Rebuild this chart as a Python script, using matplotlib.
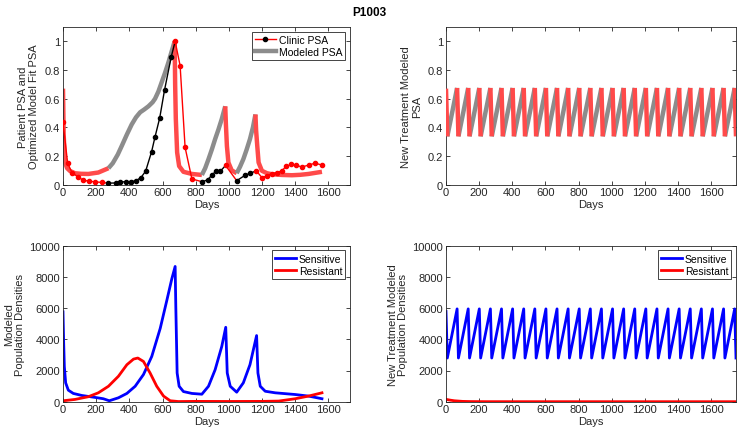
import numpy as np
import matplotlib.pyplot as plt
from matplotlib.lines import Line2D

plt.rcParams['font.family'] = ['Liberation Sans', 'DejaVu Sans']

# ---- patient PSA (clinic), 1 = on treatment (red), 0 = off (black)
clinic_days = [0, 28, 56, 89, 121, 155, 191, 233,
               274, 318, 346, 378, 410, 438, 470, 498, 534, 554, 583, 612, 652,
               676, 706, 736, 777,
               840, 873, 897, 923, 949,
               980,
               1047, 1098, 1129,
               1165, 1199, 1229, 1259, 1289, 1319, 1344, 1374, 1404, 1440, 1480, 1520, 1561]
clinic_psa = [0.435, 0.15, 0.08, 0.057, 0.031, 0.025, 0.02, 0.016,
              0.011, 0.012, 0.02, 0.02, 0.022, 0.026, 0.05, 0.094, 0.23, 0.33, 0.466, 0.66, 0.89,
              1.0, 0.83, 0.26, 0.04,
              0.02, 0.035, 0.067, 0.095, 0.095,
              0.134,
              0.028, 0.066, 0.08,
              0.097, 0.05, 0.062, 0.077, 0.084, 0.097, 0.127, 0.141, 0.137, 0.123, 0.137, 0.15, 0.137]
clinic_on = [1] * 8 + [0] * 13 + [1] * 4 + [0] * 5 + [1] + [0] * 3 + [1] * 13

# ---- modeled PSA fit
model_days = [0, 4, 12, 25, 42, 72, 110, 153, 213, 274,
              300, 330, 354, 385, 414, 440, 465, 490, 515, 540, 555, 575, 595, 615, 636, 655, 673,
              676, 680, 688, 700, 726, 777, 837,
              857, 877, 897, 917, 937, 957, 978,
              982, 988, 997, 1017, 1047,
              1067, 1087, 1107, 1127, 1145, 1160,
              1164, 1171, 1179, 1199, 1230, 1259, 1320, 1380, 1430, 1480, 1561]
model_psa = [0.67, 0.35, 0.155, 0.115, 0.096, 0.08, 0.076, 0.075, 0.085, 0.115,
             0.15, 0.21, 0.27, 0.35, 0.42, 0.47, 0.505, 0.525, 0.547, 0.575, 0.6, 0.65, 0.715, 0.78,
             0.855, 0.93, 1.0,
             0.7, 0.46, 0.225, 0.13, 0.09, 0.075, 0.068,
             0.115, 0.178, 0.245, 0.318, 0.385, 0.458, 0.547,
             0.42, 0.27, 0.155, 0.10, 0.08,
             0.125, 0.178, 0.245, 0.318, 0.4, 0.49,
             0.38, 0.27, 0.155, 0.097, 0.08, 0.073, 0.068, 0.066, 0.069, 0.075, 0.09]
model_on = [1] * 9 + [0] * 17 + [1] * 7 + [0] * 7 + [1] * 5 + [0] * 6 + [1] * 11

# ---- modeled population densities (fit)
sens_days = [0, 4, 8, 16, 32, 62, 113, 193, 243, 279, 334, 385, 435, 485, 535, 586, 626, 656, 676,
             680, 688, 700, 726, 777, 837, 877, 917, 957, 981, 990, 1008, 1047, 1087, 1127, 1167,
             1175, 1189, 1219, 1279, 1400, 1480, 1561]
sens_vals = [5760, 3800, 2260, 1210, 740, 530, 400, 275, 190, 60, 250, 530, 990, 1740, 2900, 4700, 6500,
             7880, 8670,
             6080, 1840, 990, 650, 530, 480, 990, 2050, 3540, 4770, 1840, 990, 610, 1210, 2370, 4240,
             1840, 990, 670, 570, 460, 360, 190]
res_days = [0, 72, 153, 213, 274, 334, 385, 425, 451, 485, 525, 565, 606, 646, 696, 797, 998, 1199,
            1300, 1400, 1480, 1561]
res_vals = [60, 145, 320, 570, 990, 1630, 2370, 2730, 2800, 2580, 1840, 990, 360, 60, 10, 20, 15, 20,
            40, 190, 360, 570]

# ---- new treatment schedule: days where PSA hits the upper threshold
nt_peak_days = [0, 67, 134, 201, 268, 335, 402, 469, 536, 603, 670, 737, 804, 871, 938, 1005,
                1072, 1139, 1206, 1273, 1340, 1407, 1474, 1541, 1608, 1675, 1742]
nt_drop_days = 8
nt_psa_start, nt_psa_high, nt_psa_low = 0.67, 0.675, 0.337
nt_sens_start, nt_sens_high, nt_sens_low = 5780, 5950, 2800
nt_res_days = [0, 25, 50, 100, 150, 250, 1750]
nt_res_vals = [150, 100, 60, 20, 8, 2, 0]

RED_M = '#ff4a4a'
GRAY_M = '#8c8c8c'
TXT = '#262626'
FS_TICK = 8
FS_LAB = 8
FS_LEG = 7.5


def runs(x, y, flag):
    out = []
    s = 0
    n = len(x) - 1
    for i in range(1, n + 1):
        if i == n or flag[i] != flag[s]:
            out.append((x[s:i + 1], y[s:i + 1], flag[s]))
            s = i
    return out


def style(ax, ylim, yticks, yticklabels, xlim):
    ax.set_xlim(*xlim)
    ax.set_ylim(*ylim)
    ax.set_xticks(range(0, 1601, 200))
    ax.set_yticks(yticks)
    ax.set_yticklabels(yticklabels)
    ax.tick_params(direction='in', top=True, right=True, length=3, width=0.6,
                   labelsize=FS_TICK, colors=TXT, pad=2)
    for sp in ax.spines.values():
        sp.set_color(TXT)
        sp.set_linewidth(0.6)
    ax.set_xlabel('Days', fontsize=FS_LAB, labelpad=1, color=TXT)


def add_legend(ax, handles=None, labels=None):
    kw = dict(loc='upper right', fontsize=FS_LEG, fancybox=False, framealpha=1, edgecolor=TXT,
              borderpad=0.3, handlelength=2.0, labelspacing=0.2, handletextpad=0.3, borderaxespad=0.45)
    if handles is None:
        leg = ax.legend(**kw)
    else:
        leg = ax.legend(handles, labels, **kw)
    leg.get_frame().set_linewidth(0.6)


fig = plt.figure(figsize=(7.38, 4.35), dpi=100)
fig.text(0.5, 0.985, 'P1003', ha='center', va='top', fontsize=8.5, fontweight='bold')

ax1 = fig.add_axes([63 / 738, 1 - 185.7 / 435, 287 / 738, 157.7 / 435])
ax2 = fig.add_axes([446 / 738, 1 - 185.7 / 435, 290 / 738, 157.7 / 435])
ax3 = fig.add_axes([63 / 738, 1 - 402.7 / 435, 287 / 738, 156 / 435])
ax4 = fig.add_axes([446 / 738, 1 - 402.7 / 435, 290 / 738, 156 / 435])

psa_ticks = [0, 0.2, 0.4, 0.6, 0.8, 1]
psa_labels = ['0', '0.2', '0.4', '0.6', '0.8', '1']
pop_ticks = [0, 2000, 4000, 6000, 8000, 10000]
pop_labels = [str(v) for v in pop_ticks]

# top left: fit
for xs, ys, on in runs(model_days, model_psa, model_on):
    ax1.plot(xs, ys, color=RED_M if on else GRAY_M, lw=3.2, solid_capstyle='butt', zorder=2)
for xs, ys, on in runs(clinic_days, clinic_psa, clinic_on):
    ax1.plot(xs, ys, color='red' if on else 'black', lw=1, zorder=3)
for d, p, on in zip(clinic_days, clinic_psa, clinic_on):
    ax1.plot(d, p, 'o', color='red' if on else 'black', ms=3, zorder=4)
style(ax1, (0, 1.1), psa_ticks, psa_labels, (0, 1730))
ax1.set_ylabel('Patient PSA and\nOptimized Model Fit PSA', fontsize=FS_LAB, labelpad=4, color=TXT,
               linespacing=1.1)
h1 = [Line2D([], [], color='red', lw=1, marker='o', mfc='black', mec='black', ms=3),
      Line2D([], [], color=GRAY_M, lw=3.2)]
add_legend(ax1, h1, ['Clinic PSA', 'Modeled PSA'])

# top right: new treatment PSA
prev_high = nt_psa_start
for k, d in enumerate(nt_peak_days):
    ax2.plot([d, d + nt_drop_days], [prev_high, nt_psa_low], color=RED_M, lw=3.2,
             solid_capstyle='butt', zorder=3)
    if k + 1 < len(nt_peak_days):
        ax2.plot([d + nt_drop_days, nt_peak_days[k + 1]], [nt_psa_low, nt_psa_high], color=GRAY_M,
                 lw=3.2, solid_capstyle='butt', zorder=2)
    prev_high = nt_psa_high
style(ax2, (0, 1.1), psa_ticks, psa_labels, (0, 1750))
ax2.set_ylabel('New Treatment Modeled\nPSA', fontsize=FS_LAB, labelpad=4, color=TXT, linespacing=1.1)

# bottom left: population densities
ax3.plot(sens_days, sens_vals, color='#0000ff', lw=2, label='Sensitive')
ax3.plot(res_days, res_vals, color='red', lw=2, label='Resistant')
style(ax3, (0, 10000), pop_ticks, pop_labels, (0, 1730))
ax3.set_ylabel('Modeled\nPopulation Densities', fontsize=FS_LAB, labelpad=3, color=TXT, linespacing=1.1)
add_legend(ax3)

# bottom right: new treatment population densities
nt_x = []
nt_y = []
prev_high = nt_sens_start
for d in nt_peak_days:
    nt_x += [d, d + nt_drop_days]
    nt_y += [prev_high, nt_sens_low]
    prev_high = nt_sens_high
ax4.plot(nt_x, nt_y, color='#0000ff', lw=2, label='Sensitive')
ax4.plot(nt_res_days, nt_res_vals, color='red', lw=2, label='Resistant')
style(ax4, (0, 10000), pop_ticks, pop_labels, (0, 1750))
ax4.set_ylabel('New Treatment Modeled\nPopulation Densities', fontsize=FS_LAB, labelpad=3, color=TXT,
               linespacing=1.1)
add_legend(ax4)

fig.savefig('out.png', dpi=100)
